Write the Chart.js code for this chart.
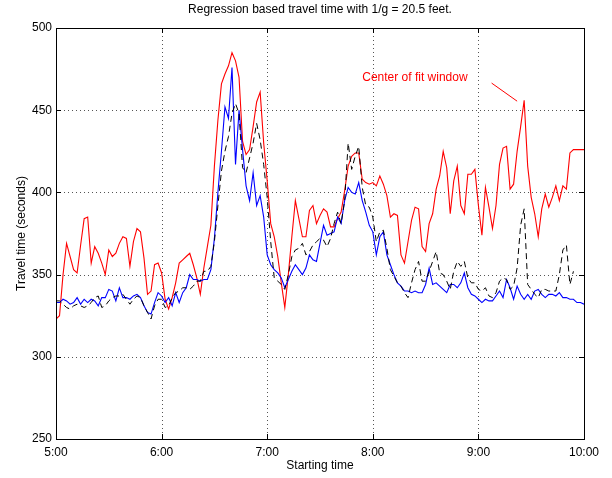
<!DOCTYPE html>
<html>
<head>
<meta charset="utf-8">
<script src="https://cdn.jsdelivr.net/npm/chart.js@4/dist/chart.umd.min.js"></script>
<style>
  html, body { margin: 0; padding: 0; background: #fff; }
  #wrap { width: 612px; height: 478px; position: relative; }
</style>
</head>
<body>
<div id="wrap"><canvas id="travelChart"></canvas></div>
<script>
// samples every 2 minutes from 5:00 to 10:00 (minutes after 5:00)
const minutes = Array.from({ length: 151 }, (_, i) => i * 2);

// red: center of fit window
const centerFit = [
  323, 325, 350, 369, 361, 353, 351, 368, 384, 385, 357, 367, 363, 357, 350, 365,
  361, 363, 369, 373, 372, 355, 370, 378, 376, 360, 338, 340, 356, 357, 351, 335,
  329, 336, 345, 357, 359, 361, 363, 356, 348, 338, 354, 367, 380, 416, 444, 466,
  472, 477, 485, 480, 470, 431, 423, 426, 440, 455, 461, 430, 407, 381, 373, 361,
  345, 330, 350, 373, 395, 384, 373, 373, 389, 392, 381, 386, 390, 388, 379, 379,
  384, 388, 401, 416, 422, 424, 424, 408, 406, 405, 406, 404, 410, 405, 398, 385,
  387, 386, 362, 357, 370, 383, 391, 390, 367, 364, 381, 387, 402, 410, 425, 415,
  387, 407, 416, 392, 387, 411, 411, 414, 392, 374, 403, 391, 378, 392, 417, 427,
  428, 402, 405, 425, 440, 456, 416, 397, 387, 373, 390, 399, 391, 397, 404, 395,
  404, 402, 424, 426, 426, 426, 426
];

// blue: regression estimate
const regression = [
  333, 333, 335, 334, 332, 333, 336, 332, 335, 333, 335, 334, 331, 336, 336, 341,
  340, 334, 342, 336, 336, 335, 337, 338, 336, 331, 327, 326, 333, 339, 337, 333,
  336, 331, 339, 333, 339, 342, 350, 347, 347, 346, 347, 347, 353, 372, 400, 425,
  452, 445, 476, 417, 450, 426, 404, 395, 412, 392, 398, 385, 362, 356, 353, 351,
  348, 342, 347, 352, 356, 353, 350, 354, 362, 359, 358, 369, 380, 374, 375, 376,
  385, 381, 395, 403, 400, 399, 406, 395, 388, 380, 376, 362, 373, 376, 362, 356,
  350, 345, 343, 340, 340, 339, 340, 339, 339, 344, 354, 344, 345, 343, 341, 339,
  344, 344, 342, 345, 351, 342, 338, 337, 335, 333, 335, 334, 334, 337, 340, 336,
  347, 342, 335, 343, 338, 335, 338, 335, 340, 341, 338, 336, 338, 338, 337, 339,
  336, 336, 335, 335, 333, 333, 332
];

// black dashed: measured travel time
const measured = [
  334, 334, 332, 330, 329, 331, 332, 331, 330, 331, 333, 336, 337, 330, 331, 334,
  336, 337, 337, 338, 335, 332, 335, 337, 336, 331, 327, 323, 331, 335, 335, 330,
  331, 336, 339, 340, 342, 342, 341, 343, 346, 346, 352, 352, 355, 370, 392, 413,
  425, 434, 448, 454, 448, 415, 412, 421, 430, 442, 432, 417, 397, 370, 348, 346,
  344, 341, 350, 361, 365, 366, 369, 362, 364, 368, 370, 372, 371, 367, 372, 381,
  388, 381, 395, 430, 414, 422, 428, 403, 392, 391, 385, 370, 376, 377, 366, 353,
  349, 345, 343, 339, 336, 345, 353, 358, 346, 346, 352, 358, 364, 351, 350, 346,
  341, 352, 358, 355, 358, 348, 345, 345, 341, 340, 342, 337, 336, 339, 346, 348,
  347, 341, 343, 354, 380, 390, 344, 341, 338, 336, 341, 341, 340, 340, 340, 350,
  365, 368, 344, 352, null, null, null
];

const xTicksEvery = 60;
const yTicks = [250, 300, 350, 400, 450, 500];

const titleText = 'Regression based travel time with 1/g = 20.5 feet.';
const xTitle = 'Starting time';
const yTitle = 'Travel time (seconds)';
const noteText = 'Center of fit window';
// note anchor and arrow in data units
const noteAt = [174, 469.5];
const arrowFrom = [247.5, 466.5];
const arrowTo = [262, 455.5];

const FONT = '"Liberation Sans", Arial, Helvetica, sans-serif';

function toPoints(vals) {
  return vals.map((v, i) => ({ x: minutes[i], y: v }));
}

function fmtTime(m) {
  const h = 5 + Math.floor(m / 60);
  const mm = String(m % 60).padStart(2, '0');
  return h + ':' + mm;
}

const matlabFrame = {
  id: 'matlabFrame',
  beforeDatasetsDraw(chart) {
    const { ctx, chartArea: a, scales: { x, y } } = chart;
    ctx.save();
    ctx.strokeStyle = '#555';
    ctx.lineWidth = 1;
    ctx.setLineDash([1, 3]);
    x.ticks.forEach(t => {
      const px = Math.round(x.getPixelForValue(t.value)) + 0.5;
      if (px <= a.left + 1 || px >= a.right - 1) return;
      ctx.beginPath(); ctx.moveTo(px, a.top); ctx.lineTo(px, a.bottom); ctx.stroke();
    });
    y.ticks.forEach(t => {
      const py = Math.round(y.getPixelForValue(t.value)) + 0.5;
      if (py <= a.top + 1 || py >= a.bottom - 1) return;
      ctx.beginPath(); ctx.moveTo(a.left, py); ctx.lineTo(a.right, py); ctx.stroke();
    });
    ctx.restore();
  },
  afterDatasetsDraw(chart) {
    const { ctx, chartArea: a, scales: { x, y } } = chart;
    ctx.save();
    // box
    ctx.strokeStyle = '#000';
    ctx.lineWidth = 1;
    ctx.setLineDash([]);
    ctx.strokeRect(Math.round(a.left) + 0.5, Math.round(a.top) + 0.5,
      Math.round(a.right - a.left), Math.round(a.bottom - a.top));
    // inward ticks on all four sides
    const tl = 5;
    ctx.beginPath();
    x.ticks.forEach(t => {
      const px = Math.round(x.getPixelForValue(t.value)) + 0.5;
      ctx.moveTo(px, a.bottom); ctx.lineTo(px, a.bottom - tl);
      ctx.moveTo(px, a.top); ctx.lineTo(px, a.top + tl);
    });
    y.ticks.forEach(t => {
      const py = Math.round(y.getPixelForValue(t.value)) + 0.5;
      ctx.moveTo(a.left, py); ctx.lineTo(a.left + tl, py);
      ctx.moveTo(a.right, py); ctx.lineTo(a.right - tl, py);
    });
    ctx.stroke();

    // titles
    ctx.fillStyle = '#000';
    ctx.font = '12px ' + FONT;
    ctx.textAlign = 'center';
    ctx.textBaseline = 'middle';
    const cx = (a.left + a.right) / 2;
    ctx.fillText(titleText, cx, 10);
    ctx.fillText(xTitle, cx, 466);
    ctx.save();
    ctx.translate(22, (a.top + a.bottom) / 2);
    ctx.rotate(-Math.PI / 2);
    ctx.fillText(yTitle, 0, 0);
    ctx.restore();

    // annotation
    ctx.fillStyle = '#ff0000';
    ctx.strokeStyle = '#ff0000';
    ctx.textAlign = 'left';
    ctx.fillText(noteText, x.getPixelForValue(noteAt[0]), y.getPixelForValue(noteAt[1]));
    ctx.beginPath();
    ctx.moveTo(x.getPixelForValue(arrowFrom[0]), y.getPixelForValue(arrowFrom[1]));
    ctx.lineTo(x.getPixelForValue(arrowTo[0]), y.getPixelForValue(arrowTo[1]));
    ctx.stroke();
    ctx.restore();
  }
};

new Chart(document.getElementById('travelChart'), {
  type: 'line',
  data: {
    datasets: [
      {
        label: 'Measured',
        data: toPoints(measured),
        borderColor: '#000000',
        borderWidth: 1,
        borderDash: [6, 4],
        pointRadius: 0,
        spanGaps: false
      },
      {
        label: 'Regression',
        data: toPoints(regression),
        borderColor: '#0000ff',
        borderWidth: 1.1,
        pointRadius: 0
      },
      {
        label: 'Center of fit window',
        data: toPoints(centerFit),
        borderColor: '#ff0000',
        borderWidth: 1.1,
        pointRadius: 0
      }
    ]
  },
  options: {
    responsive: true,
    maintainAspectRatio: false,
    animation: false,
    layout: { padding: { top: 28, right: 28, left: 0, bottom: 0 } },
    elements: { line: { tension: 0 } },
    plugins: {
      legend: { display: false },
      tooltip: { enabled: false }
    },
    scales: {
      x: {
        type: 'linear',
        min: 0,
        max: 300,
        afterFit: s => { s.height = 39; },
        ticks: {
          stepSize: xTicksEvery,
          autoSkip: false,
          maxRotation: 0,
          padding: 6,
          color: '#000',
          font: { size: 12, family: FONT },
          callback: v => fmtTime(v)
        },
        grid: { display: false, drawTicks: false },
        border: { display: false }
      },
      y: {
        min: yTicks[0],
        max: yTicks[yTicks.length - 1],
        afterFit: s => { s.width = 56; },
        afterBuildTicks: s => { s.ticks = yTicks.map(v => ({ value: v })); },
        ticks: {
          padding: 4,
          color: '#000',
          font: { size: 12, family: FONT }
        },
        grid: { display: false, drawTicks: false },
        border: { display: false }
      }
    }
  },
  plugins: [matlabFrame]
});
</script>
</body>
</html>
